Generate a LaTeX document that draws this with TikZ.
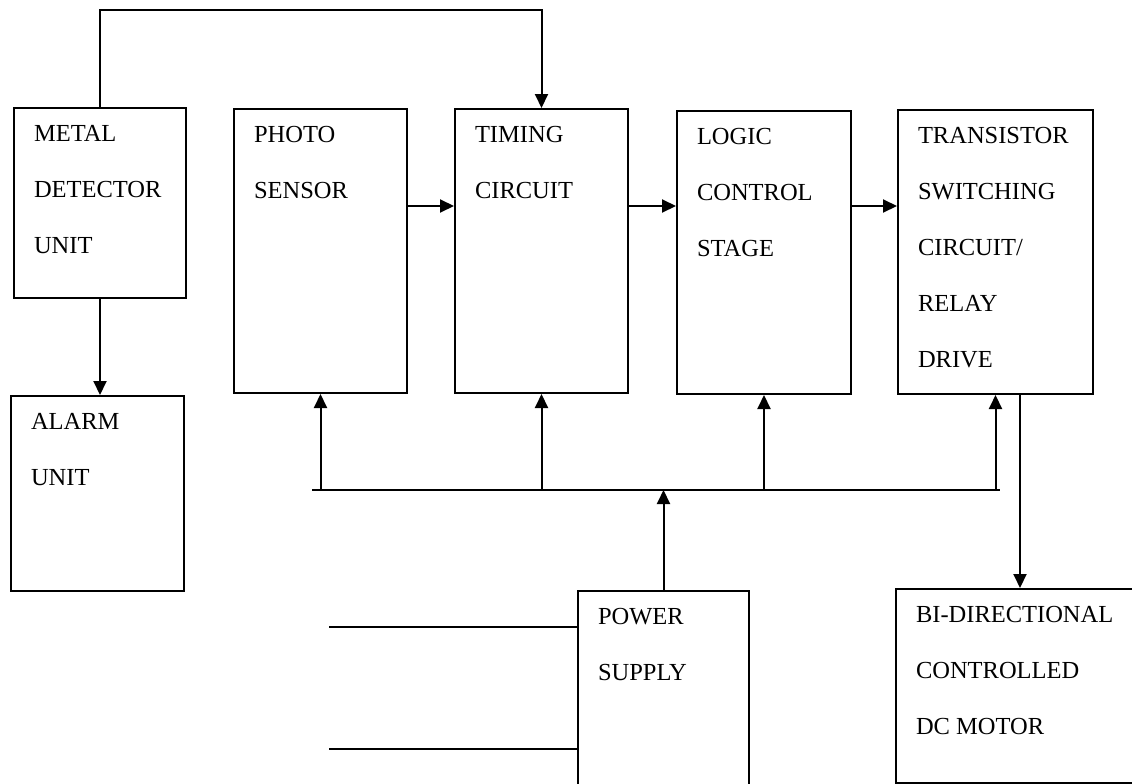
\documentclass[tikz,border=0pt]{standalone}
\usepackage{fontspec}
\setmainfont{Liberation Serif}
\usetikzlibrary{arrows.meta}

\begin{document}
\begin{tikzpicture}[x=1pt, y=-1pt, line width=2pt,
  block/.style={draw, anchor=north west, inner sep=0pt},
  txt/.style={anchor=north west, align=left, inner sep=0pt, xshift=20pt, yshift=-17pt,
    font=\fontsize{24.5}{56}\selectfont},
  arr/.style={-{Triangle[length=14pt,width=13pt]}}]
  \useasboundingbox (0,0) rectangle (1132,784);

  % blocks
  \node[block, minimum width=172pt, minimum height=190pt,
    label={[txt]north west:METAL\\DETECTOR\\UNIT}] (metal) at (13,107) {};
  \node[block, minimum width=173pt, minimum height=195pt,
    label={[txt]north west:ALARM\\UNIT}] (alarm) at (10,395) {};
  \node[block, minimum width=173pt, minimum height=284pt,
    label={[txt]north west:PHOTO\\SENSOR}] (photo) at (233,108) {};
  \node[block, minimum width=173pt, minimum height=284pt,
    label={[txt]north west:TIMING\\CIRCUIT}] (timing) at (454,108) {};
  \node[block, minimum width=174pt, minimum height=283pt,
    label={[txt]north west:LOGIC\\CONTROL\\STAGE}] (logic) at (676,110) {};
  \node[block, minimum width=195pt, minimum height=284pt,
    label={[txt]north west:TRANSISTOR\\SWITCHING\\CIRCUIT/\\RELAY\\DRIVE}] (trans) at (897,109) {};
  \node[block, minimum width=171pt, minimum height=220pt,
    label={[txt]north west:POWER\\SUPPLY}] (power) at (577,590) {};
  \node[block, minimum width=250pt, minimum height=194pt,
    label={[txt]north west:BI-DIRECTIONAL\\CONTROLLED\\DC MOTOR}] (motor) at (895,588) {};

  % helper points
  \coordinate (sig) at (0,206);
  \coordinate (busl) at (312,490);
  \coordinate (busr) at (1000,490);
  \coordinate (out) at (1020,0);
  \coordinate (in1) at (329,627);
  \coordinate (in2) at (329,749);

  % signal path
  \draw[arr] (metal.north) -- ++(0,-97) -| (timing.north);
  \draw[arr] (metal.south) -- (metal.south |- alarm.north);
  \draw[arr] (photo.east |- sig) -- (timing.west |- sig);
  \draw[arr] (timing.east |- sig) -- (logic.west |- sig);
  \draw[arr] (logic.east |- sig) -- (trans.west |- sig);
  \draw[arr] (trans.south -| out) -- (motor.north -| out);

  % supply bus
  \draw (busl) -- (busr);
  \draw[arr] (power.north) -- (power.north |- busl);
  \foreach \b in {photo, timing, logic, trans}
    \draw[arr] (\b.south |- busl) -- (\b.south);
  \draw (in1) -- (in1 -| power.west);
  \draw (in2) -- (in2 -| power.west);
\end{tikzpicture}
\end{document}
